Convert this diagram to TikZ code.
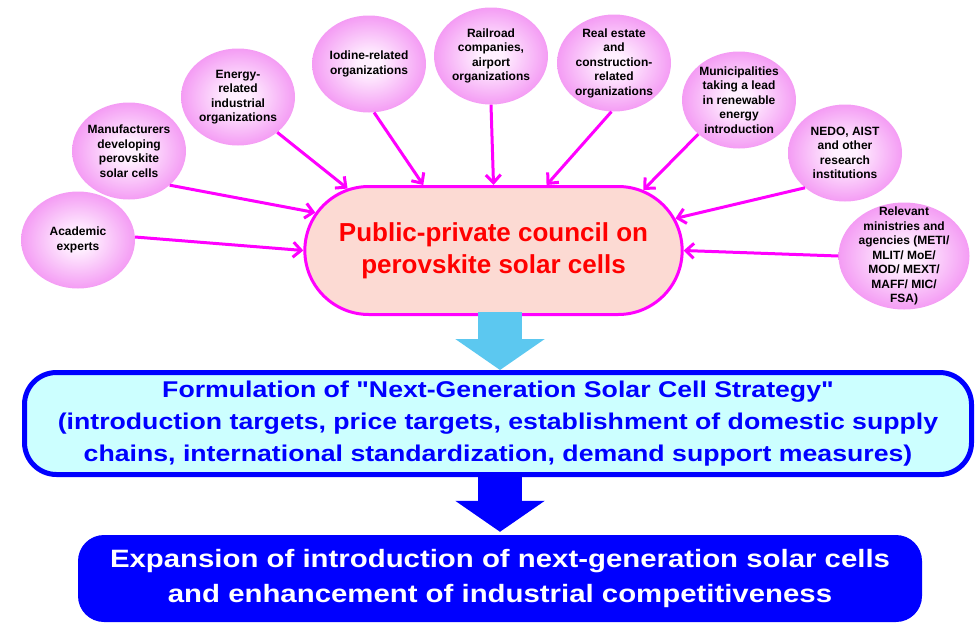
\documentclass[tikz,border=0pt]{standalone}
\usepackage{fontspec}
\setmainfont{Liberation Sans}[Ligatures=TeXOff]
\newfontfamily\widefont{Liberation Sans}[Ligatures=TeXOff, FakeStretch=1.17]
\usetikzlibrary{shapes.geometric,shapes.misc,arrows.meta,calc}
\definecolor{feedline}{HTML}{FF00FF}
\definecolor{councilfill}{HTML}{FCDAD3}
\definecolor{bubbleedge}{HTML}{F49CF4}
\definecolor{bubblecentre}{HTML}{FFF0FF}
\definecolor{strategyfill}{HTML}{CCFFFF}
\definecolor{skyarrow}{HTML}{5CC8F0}
\definecolor{deepblue}{HTML}{0000FF}
\pgfdeclareradialshading{bubbleglow}{\pgfpoint{0bp}{0bp}}{color(0bp)=(bubblecentre);
  color(5bp)=(bubblecentre); color(25bp)=(bubbleedge); color(50bp)=(bubbleedge)}
\newcommand{\org}[4][]{\node[bubble, #1,
  label={[bubbletext]center:{#4}}] (#2) at (#3) {};}

\begin{document}
\begin{tikzpicture}[x=1pt, y=-1pt,
    bubble/.style = {ellipse, shading=bubbleglow, inner sep=0pt,
      minimum width=114, minimum height=97},
    bubbletext/.style = {font=\fontsize{12}{14.5}\selectfont\bfseries,
      align=center, inner sep=0pt},
    feed/.style = {draw=feedline, line width=3pt,
      -{Straight Barb[length=8pt, width=15pt]}},
    council/.style = {rounded rectangle, draw=feedline, line width=3pt,
      fill=councilfill, minimum width=384, minimum height=128, text=red,
      font=\fontsize{26}{32}\selectfont\bfseries, align=center},
    strategy/.style = {rectangle, rounded corners=32, draw=deepblue,
      line width=5pt, fill=strategyfill, minimum width=947,
      minimum height=102, text=deepblue,
      font=\widefont\fontsize{22.8}{31.7}\selectfont\bfseries, align=center},
    outcome/.style = {rectangle, rounded corners=26, fill=deepblue,
      minimum width=844, minimum height=87, text=white,
      font=\widefont\fontsize{25.1}{35}\selectfont\bfseries, align=center},
    bigarrow/.style = {line width=44pt,
      -{Triangle[length=31pt, width=88pt]}},
  ]
  \useasboundingbox (0,0) rectangle (976,629);

  \node[council] (council) at (493.5,250.5)
    {Public-private council on\\perovskite solar cells};

  \org{academic}{78,240}{Academic\\experts}
  \org{makers}{129,151}{Manufacturers\\developing\\perovskite\\solar cells}
  \org{energy}{238,97}{Energy-\\related\\industrial\\organizations}
  \org{iodine}{369,64}{Iodine-related\\organizations}
  \org{railroad}{491,56}{Railroad\\companies,\\airport\\organizations}
  \org{realestate}{614,63}{Real estate\\and\\construction-\\related\\organizations}
  \org{municipal}{739,100}{Municipalities\\taking a lead\\in renewable\\energy\\introduction}
  \org{nedo}{845,153}{NEDO, AIST\\and other\\research\\institutions}
  \org[minimum width=131, minimum height=107]{ministries}{904,256}
    {Relevant\\ministries and\\agencies (METI/\\MLIT/ MoE/\\MOD/ MEXT/\\MAFF/ MIC/\\FSA)}

  \foreach \from/\a/\b in {academic/3/180, makers/-40/168, energy/-42/157,
      iodine/-84/137, railroad/-90/90, realestate/-93/51, municipal/-140/22,
      nedo/-139/10, ministries/180/0}
    \draw[feed] (\from.\a) -- (council.\b);

  \node[strategy] (strategy) at (498,423.5)
    {Formulation of "Next-Generation Solar Cell Strategy"\\
     (introduction targets, price targets, establishment of domestic supply\\
     chains, international standardization, demand support measures)};

  \node[outcome] (outcome) at (500,578.5)
    {Expansion of introduction of next-generation solar cells\\
     and enhancement of industrial competitiveness};

  \draw[bigarrow, skyarrow, shorten <=-4pt]
    (council.south -| outcome.north) -- (strategy.north -| outcome.north);
  \draw[bigarrow, deepblue, shorten <=-1pt, shorten >=3pt]
    (strategy.south -| outcome.north) -- (outcome.north);
\end{tikzpicture}
\end{document}
